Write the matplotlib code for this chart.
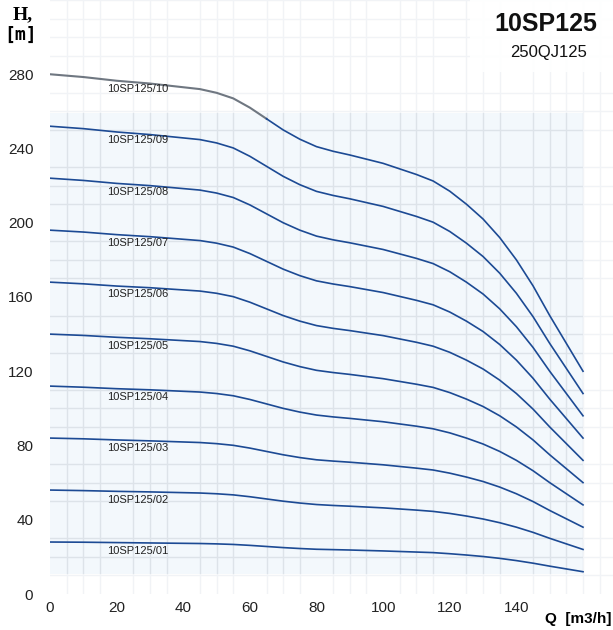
# 10SP125 扬程曲线

import matplotlib.pyplot as plt
from matplotlib.patches import Rectangle

q = [0, 10, 20, 30, 40, 45, 50, 55, 60, 65, 70, 75, 80, 85, 90, 100, 110,
     115, 120, 125, 130, 135, 140, 145, 150, 155, 160]

h01 = [28.0, 27.9, 27.7, 27.5, 27.3, 27.2, 27.0, 26.7, 26.2, 25.6, 25.0, 24.5, 24.1, 23.9,
       23.7, 23.2, 22.6, 22.3, 21.7, 21.0, 20.2, 19.2, 18.0, 16.6, 15.0, 13.5, 12.0]
h02 = [56.0, 55.7, 55.3, 55.0, 54.6, 54.4, 54.0, 53.4, 52.4, 51.2, 50.0, 49.0, 48.2, 47.7,
       47.3, 46.4, 45.2, 44.5, 43.4, 42.0, 40.4, 38.4, 36.0, 33.2, 30.0, 27.0, 24.0]
h03 = [84.0, 83.6, 83.0, 82.5, 81.9, 81.6, 81.0, 80.1, 78.6, 76.8, 75.0, 73.5, 72.3, 71.6,
       71.0, 69.6, 67.8, 66.8, 65.1, 63.0, 60.6, 57.6, 54.0, 49.8, 45.0, 40.5, 36.0]
h04 = [112.0, 111.4, 110.6, 110.0, 109.2, 108.8, 108.0, 106.8, 104.8, 102.4, 100.0, 98.0, 96.4,
       95.4, 94.6, 92.8, 90.4, 89.0, 86.8, 84.0, 80.8, 76.8, 72.0, 66.4, 60.0, 54.0, 48.0]
h05 = [140.0, 139.3, 138.3, 137.5, 136.5, 136.0, 135.0, 133.5, 131.0, 128.0, 125.0, 122.5, 120.5,
       119.3, 118.3, 116.0, 113.0, 111.3, 108.5, 105.0, 101.0, 96.0, 90.0, 83.0, 75.0, 67.5, 60.0]
h06 = [168.0, 167.1, 165.9, 165.0, 163.8, 163.2, 162.0, 160.2, 157.2, 153.6, 150.0, 147.0, 144.6,
       143.1, 141.9, 139.2, 135.6, 133.5, 130.2, 126.0, 121.2, 115.2, 108.0, 99.6, 90.0, 81.0, 72.0]
h07 = [196.0, 195.0, 193.6, 192.5, 191.1, 190.4, 189.0, 186.9, 183.4, 179.2, 175.0, 171.5, 168.7,
       167.0, 165.6, 162.4, 158.2, 155.8, 151.9, 147.0, 141.4, 134.4, 126.0, 116.2, 105.0, 94.5, 84.0]
h08 = [224.0, 222.8, 221.2, 220.0, 218.4, 217.6, 216.0, 213.6, 209.6, 204.8, 200.0, 196.0, 192.8,
       190.8, 189.2, 185.6, 180.8, 178.0, 173.6, 168.0, 161.6, 153.6, 144.0, 132.8, 120.0, 108.0, 96.0]
h09 = [252.0, 250.7, 248.9, 247.5, 245.7, 244.8, 243.0, 240.3, 235.8, 230.4, 225.0, 220.5, 216.9,
       214.7, 212.9, 208.8, 203.4, 200.3, 195.3, 189.0, 181.8, 172.8, 162.0, 149.4, 135.0, 121.5, 108.0]
h10 = [280.0, 278.5, 276.5, 275.0, 273.0, 272.0, 270.0, 267.0, 262.0, 256.0, 250.0, 245.0, 241.0,
       238.5, 236.5, 232.0, 226.0, 222.5, 217.0, 210.0, 202.0, 192.0, 180.0, 166.0, 150.0, 135.0, 120.0]

curves = [h01, h02, h03, h04, h05, h06, h07, h08, h09, h10]
names = ['10SP125/%02d' % i for i in range(1, 11)]

x_ticks = [0, 20, 40, 60, 80, 100, 120, 140]
y_ticks = [0, 40, 80, 120, 160, 200, 240, 280]

if __name__ == '__main__':
    plt.rc('font', family=['Liberation Sans', 'DejaVu Sans'], size=11)
    blue = '#1c4a94'

    fig = plt.figure(figsize=(6.13, 6.30), dpi=100)
    ax = fig.add_axes([50 / 613, 36 / 630, 563 / 613, 594 / 630])
    ax.set_xlim(0, 169)
    ax.set_ylim(0, 320)
    ax.set_facecolor('white')

    # 网格和底色
    ax.add_patch(Rectangle((0, 11), 160, 248, color='#f3f8fc', zorder=0.1, lw=0))
    ax.set_xticks(range(0, 170, 5), minor=True)
    ax.set_yticks(range(0, 321, 10), minor=True)
    ax.grid(which='minor', color='#dde3e9', linewidth=1.0)
    ax.set_axisbelow(True)
    fade = dict(color='white', alpha=0.6, lw=0, zorder=0.7)
    ax.add_patch(Rectangle((0, 259), 169, 61, **fade))
    ax.add_patch(Rectangle((0, 0), 169, 11, **fade))
    ax.add_patch(Rectangle((160, 11), 9, 248, **fade))

    for i, (h, name) in enumerate(zip(curves, names)):
        if i == 9:
            ax.plot(q[:10], h[:10], color='#6f7781', linewidth=1.5, zorder=2,
                    solid_joinstyle='round')
            ax.plot(q[9:], h[9:], color=blue, linewidth=1.2, zorder=2,
                    solid_joinstyle='round')
        else:
            ax.plot(q, h, color=blue, linewidth=1.2, zorder=2, solid_joinstyle='round')
        ax.annotate(name, (17, h[2]), xytext=(0, -6), textcoords='offset points',
                    ha='left', va='center', fontsize=8, color='#222222')

    ax.set_xticks(x_ticks)
    ax.set_yticks(y_ticks)
    ax.tick_params(which='both', length=0, colors='#222222')
    ax.tick_params(axis='y', pad=12)
    ax.tick_params(axis='x', pad=5)
    for s in ax.spines.values():
        s.set_visible(False)

    # 标题框
    ax.add_patch(Rectangle((126, 281), 43, 39, color='white', alpha=0.92, lw=0, zorder=3))
    fig.text(546 / 613, 1 - 24 / 630, '10SP125', ha='center', va='center',
             fontsize=18, fontweight='bold', color='#111111')
    fig.text(549 / 613, 1 - 52 / 630, '250QJ125', ha='center', va='center',
             fontsize=12, color='#111111')

    fig.text(23 / 613, 1 - 15 / 630, 'H,', ha='center', va='center',
             fontsize=14, fontweight='bold', family='Liberation Serif')
    fig.text(21 / 613, 1 - 35 / 630, '[m]', ha='center', va='center',
             fontsize=13, fontweight='bold', family='DejaVu Sans Mono')
    fig.text(578 / 613, 1 - 619 / 630, 'Q  [m3/h]', ha='center', va='center',
             fontsize=11, fontweight='bold',
             family=['Liberation Sans Narrow', 'Liberation Sans'])

    plt.savefig('out.png', dpi=100)
